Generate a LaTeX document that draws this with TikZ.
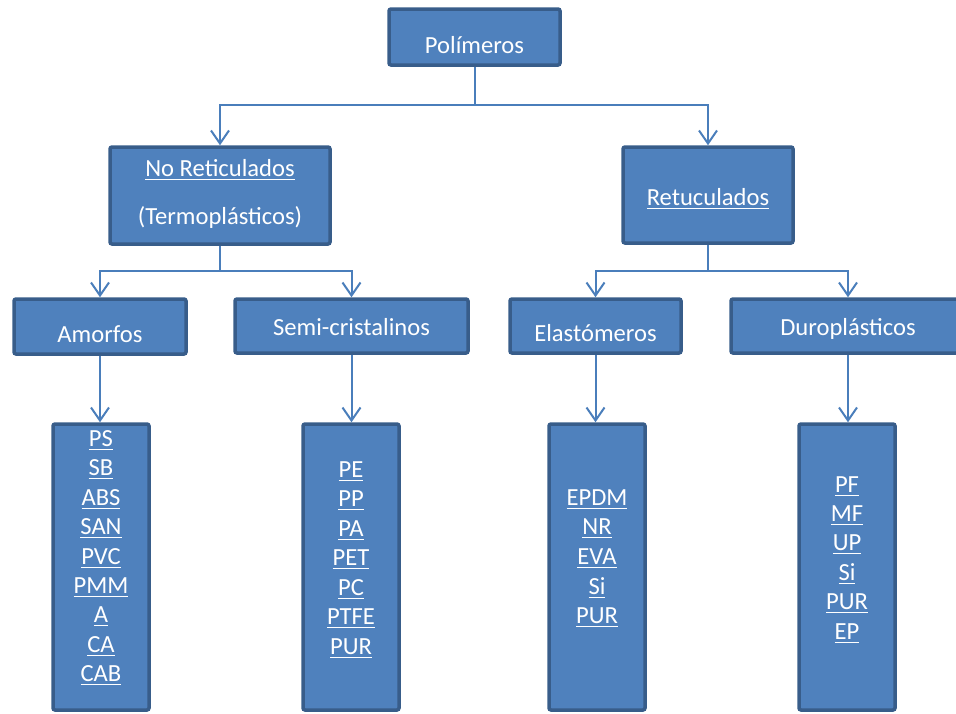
\documentclass[tikz,border=0pt]{standalone}
\usepackage{fontspec}
\setmainfont{Carlito}
\usetikzlibrary{arrows.meta}
\definecolor{boxfill}{HTML}{4F81BD}
\definecolor{boxline}{HTML}{385D8A}
\definecolor{linkc}{HTML}{4A7EBB}
% underlined word with a fixed rule position
\newcommand\ulword[1]{\setbox0\hbox{#1}\rlap{\rule[-3.5pt]{\wd0}{1pt}}\box0}
\begin{document}
\begin{tikzpicture}[x=1pt,y=-1pt,
  box/.style={draw=boxline, fill=boxfill, line width=3.5pt, rounded corners=2pt, inner sep=0pt},
  lbl/.style={text=white, font=\fontsize{24.6}{29}\selectfont, inner sep=0pt, anchor=base},
  link/.style={draw=linkc, line width=2pt},
  arr/.style={link, -{Straight Barb[length=13pt,width=18pt]}}]
\clip (0,0) rectangle (956,713);
\useasboundingbox (0,0) rectangle (956,713);

% top level
\node[box, minimum width=171pt, minimum height=56pt] (pol) at (474.5,37) {};
\node[lbl] (polT) at (474.5,53) {Polímeros};

% second level
\node[box, minimum width=220pt, minimum height=97pt] (noret) at (220,195.5) {};
\node[lbl] (noretA) at (220,176.5) {\ulword{No Reticulados}};
\node[lbl] (noretB) at (220,224) {(Termoplásticos)};
\node[box, minimum width=170pt, minimum height=96pt] (ret) at (708,195) {};
\node[lbl] (retT) at (708,205.5) {\ulword{Retuculados}};

% third level
\node[box, minimum width=172pt, minimum height=55pt] (amorf) at (100,326.5) {};
\node[lbl] (amorfT) at (100,342) {Amorfos};
\node[box, minimum width=233pt, minimum height=54pt] (semi) at (351.5,326) {};
\node[lbl] (semiT) at (351.5,335.5) {Semi-cristalinos};
\node[box, minimum width=171pt, minimum height=54pt] (elast) at (595.5,326) {};
\node[lbl] (elastT) at (595.5,341.5) {Elastómeros};
\node[box, minimum width=234pt, minimum height=54pt] (duro) at (848,326) {};
\node[lbl] (duroT) at (848,335.5) {Duroplásticos};

% material lists
\node[box, minimum width=96pt, minimum height=286pt] (amL) at (101,567) {};
\node[box, minimum width=96pt, minimum height=286pt] (seL) at (351,567) {};
\node[box, minimum width=96pt, minimum height=286pt] (elL) at (597,567) {};
\node[box, minimum width=96pt, minimum height=286pt] (duL) at (847,567) {};

\foreach \t [count=\k] in {PS,SB,ABS,SAN,PVC,PMM,A,CA,CAB}
  \node[lbl] (am\k) at (101,{446.5+29.4*(\k-1)}) {\ulword{\t}};
\foreach \t [count=\k] in {PE,PP,PA,PET,PC,PTFE,PUR}
  \node[lbl] (se\k) at (351,{477+29.5*(\k-1)}) {\ulword{\t}};
\foreach \t [count=\k] in {EPDM,NR,EVA,Si,PUR}
  \node[lbl] (el\k) at (597,{505+29.7*(\k-1)}) {\ulword{\t}};
\foreach \t [count=\k] in {PF,MF,UP,Si,PUR,EP}
  \node[lbl] (du\k) at (847,{492+29.4*(\k-1)}) {\ulword{\t}};

% connectors
\coordinate (j0) at (474.5,105);
\coordinate (j1) at (220,271);
\coordinate (j2) at (708,271);
\draw[arr] (pol.south) -- (pol.south |- j0) -| (noret.north);
\draw[arr] (pol.south) -- (pol.south |- j0) -| (ret.north);
\draw[arr] (noret.south) -- (noret.south |- j1) -| (amorf.north);
\draw[arr] (noret.south) -- (noret.south |- j1) -| (semi.north);
\draw[arr] (ret.south) -- (ret.south |- j2) -| (elast.north);
\draw[arr] (ret.south) -- (ret.south |- j2) -| (duro.north);
\draw[arr] (amorf.south) -- (amorf.south |- amL.north);
\draw[arr] (semi.south) -- (semi.south |- seL.north);
\draw[arr] (elast.south) -- (elast.south |- elL.north);
\draw[arr] (duro.south) -- (duro.south |- duL.north);
\end{tikzpicture}
\end{document}
